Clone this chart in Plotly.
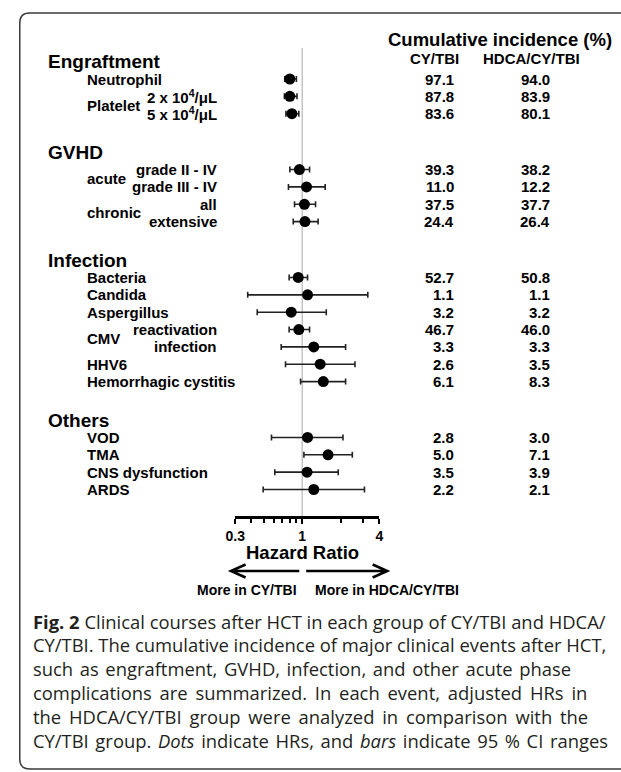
import math
import plotly.graph_objects as go

# ---------------- data ----------------
group_names = ["Engraftment", "GVHD", "Infection", "Others"]
group_sizes = [3, 4, 7, 4]

item_labels = ["Neutrophil", "Platelet", "acute", "chronic", "Bacteria", "Candida",
               "Aspergillus", "CMV", "HHV6", "Hemorrhagic cystitis", "VOD", "TMA",
               "CNS dysfunction", "ARDS"]
item_spans = [1, 2, 2, 2, 1, 1, 1, 2, 1, 1, 1, 1, 1, 1]

sub_labels = ["", "2 x 10<sup>4</sup>/μL", "5 x 10<sup>4</sup>/μL",
              "grade II - IV", "grade III - IV", "all", "extensive",
              "", "", "", "reactivation", "infection", "", "",
              "", "", "", ""]

hr = [0.80, 0.80, 0.83, 0.95, 1.08, 1.04, 1.05,
      0.93, 1.10, 0.82, 0.94, 1.23, 1.38, 1.46,
      1.10, 1.59, 1.09, 1.23]
ci_lo = [0.73, 0.725, 0.745, 0.80, 0.78, 0.87, 0.85,
         0.79, 0.375, 0.445, 0.79, 0.685, 0.74, 0.97,
         0.575, 1.03, 0.61, 0.495]
ci_hi = [0.90, 0.91, 0.94, 1.14, 1.51, 1.27, 1.33,
         1.10, 3.25, 1.54, 1.14, 2.18, 2.58, 2.18,
         2.08, 2.46, 1.91, 3.06]

cy_tbi = ["97.1", "87.8", "83.6", "39.3", "11.0", "37.5", "24.4",
          "52.7", "1.1", "3.2", "46.7", "3.3", "2.6", "6.1",
          "2.8", "5.0", "3.5", "2.2"]
hdca_cy_tbi = ["94.0", "83.9", "80.1", "38.2", "12.2", "37.7", "26.4",
               "50.8", "1.1", "3.2", "46.0", "3.3", "3.5", "8.3",
               "3.0", "7.1", "3.9", "2.1"]

tick_values = [0.3, 1, 4]
tick_labels = ["0.3", "1", "4"]
minor_tick_values = [0.4, 0.5, 0.6, 0.7, 0.8, 0.9, 2, 3]

caption_lines = [
    "<b>Fig. 2</b> Clinical courses after HCT in each group of CY/TBI and HDCA/",
    "CY/TBI. The cumulative incidence of major clinical events after HCT,",
    "such as engraftment, GVHD, infection, and other acute phase",
    "complications are summarized. In each event, adjusted HRs in",
    "the HDCA/CY/TBI group were analyzed in comparison with the",
    "CY/TBI group. <i>Dots</i> indicate HRs, and <i>bars</i> indicate 95 % CI ranges",
]
# extra inter-word spacing used to mimic the justified caption
caption_word_pad = ["", "", "\u200a", "\u2009", "\u2009", "\u200a"]

# ---------------- layout helpers ----------------
W, H = 621, 772
FONT = "Liberation Sans, Arial, sans-serif"
CAP_FONT = "Open Sans, Noto Sans, sans-serif"


def px(x):
    return x / W


def py(y):
    return 1 - y / H


ROW0_PX = 79.0      # pixel y of the first row
ROW_PX = 17.35      # pixels per row
ROW_GAP = 2.22      # extra rows between groups
PLOT_TOP, PLOT_BOT = 48, 516
X_ONE, PX_PER_DEC = 299.0, 131.0

# row positions (in row units)
row_u = []
group_first = []
for g, n in enumerate(group_sizes):
    group_first.append(len(row_u) + g * ROW_GAP)
    for j in range(n):
        row_u.append(len(row_u) + g * ROW_GAP)

x_lo_px = X_ONE + math.log10(tick_values[0]) * PX_PER_DEC
x_hi_px = X_ONE + math.log10(tick_values[-1]) * PX_PER_DEC

fig = go.Figure()
fig.add_trace(go.Scatter(
    x=hr, y=row_u, mode="markers",
    marker=dict(size=11, color="black"),
    error_x=dict(type="data", symmetric=False,
                 array=[h - m for h, m in zip(ci_hi, hr)],
                 arrayminus=[m - l for m, l in zip(hr, ci_lo)],
                 thickness=1.6, width=3, color="#222222"),
    cliponaxis=False, showlegend=False, hoverinfo="skip",
))

ann = []


def text(x, y, s, size, anchor="left", yref="paper", bold=True, family=FONT, color="black"):
    ann.append(dict(x=x, y=y, xref="paper", yref=yref, text=(f"<b>{s}</b>" if bold else s),
                    showarrow=False, xanchor=anchor, yanchor="middle",
                    font=dict(family=family, size=size, color=color)))


# column headers
text(px(501), py(40), "Cumulative incidence (%)", 18.5, "center")
text(px(434), py(58), "CY/TBI", 15, "center")
text(px(534), py(58), "HDCA/CY/TBI", 15, "center")

# group headers
for g, name in enumerate(group_names):
    text(px(37), group_first[g] - 1, name, 19, yref="y")

# item labels
r = 0
for lab, span in zip(item_labels, item_spans):
    yc = sum(row_u[r:r + span]) / span
    text(px(77), yc, lab, 15, yref="y")
    r += span

# sub labels and numbers
for i, u in enumerate(row_u):
    if sub_labels[i]:
        text(px(214), u, sub_labels[i], 15, "right", yref="y")
    text(px(456), u, cy_tbi[i], 15, "right", yref="y")
    text(px(554), u, hdca_cy_tbi[i], 15, "right", yref="y")

# axis title and direction labels
text(px(299), py(552), "Hazard Ratio", 18.5, "center")
text(px(242), py(590), "More in CY/TBI", 14, "center")
text(px(386), py(590), "More in HDCA/CY/TBI", 14, "center")

# caption
for k, line in enumerate(caption_lines):
    pad = caption_word_pad[k]
    if pad:
        line = line.replace(" ", " " + pad)
    text(px(21), py(621 + 23.8 * k), line, 18.4, "left", bold=False, family=CAP_FONT, color="#231f20")

shapes = []
# reference line at HR = 1
shapes.append(dict(type="line", xref="x", yref="paper", x0=1, x1=1,
                   y0=py(PLOT_BOT), y1=py(PLOT_TOP),
                   line=dict(color="#c4c4c4", width=1.5), layer="below"))
# direction arrows
AY = 571


def arrow_path(x0, x1, head_at_left):
    hx = x0 if head_at_left else x1
    d = 15 if head_at_left else -15
    return (f"M {px(x0)},{py(AY)} L {px(x1)},{py(AY)} "
            f"M {px(hx + d)},{py(AY - 6.5)} L {px(hx)},{py(AY)} L {px(hx + d)},{py(AY + 6.5)}")


shapes.append(dict(type="path", xref="paper", yref="paper",
                   path=arrow_path(226, 296, True), line=dict(color="black", width=2.5)))
shapes.append(dict(type="path", xref="paper", yref="paper",
                   path=arrow_path(303, 386, False), line=dict(color="black", width=2.5)))
# rounded frame (right side runs off the page)
L, T, B, R, RAD = 10, 13, 769, 640, 10
frame = (f"M {px(R)},{py(T)} L {px(L + RAD)},{py(T)} Q {px(L)},{py(T)} {px(L)},{py(T + RAD)} "
         f"L {px(L)},{py(B - RAD)} Q {px(L)},{py(B)} {px(L + RAD)},{py(B)} L {px(R)},{py(B)}")
shapes.append(dict(type="path", xref="paper", yref="paper", path=frame,
                   line=dict(color="#3a3a3a", width=1.5)))

fig.update_layout(
    width=W, height=H, margin=dict(l=0, r=0, t=0, b=0),
    paper_bgcolor="white", plot_bgcolor="white",
    annotations=ann, shapes=shapes, showlegend=False,
    xaxis=dict(type="log", domain=[px(x_lo_px), px(x_hi_px)],
               range=[math.log10(tick_values[0]), math.log10(tick_values[-1])],
               showgrid=False, zeroline=False, showline=True,
               linecolor="black", linewidth=2.5,
               ticks="outside", ticklen=5, tickwidth=2, tickcolor="black",
               tickvals=tick_values, ticktext=[f"<b>{t}</b>" for t in tick_labels],
               tickfont=dict(family=FONT, size=14, color="black"),
               minor=dict(tickvals=minor_tick_values, ticks="outside", ticklen=4,
                          tickwidth=2, tickcolor="black", showgrid=False),
               fixedrange=True),
    yaxis=dict(domain=[py(PLOT_BOT), py(PLOT_TOP)],
               range=[(PLOT_BOT - ROW0_PX) / ROW_PX, (PLOT_TOP - ROW0_PX) / ROW_PX],
               visible=False, fixedrange=True),
)

fig.write_html("out.html", config={"displayModeBar": False},
               post_script="document.body.style.margin='0';")
